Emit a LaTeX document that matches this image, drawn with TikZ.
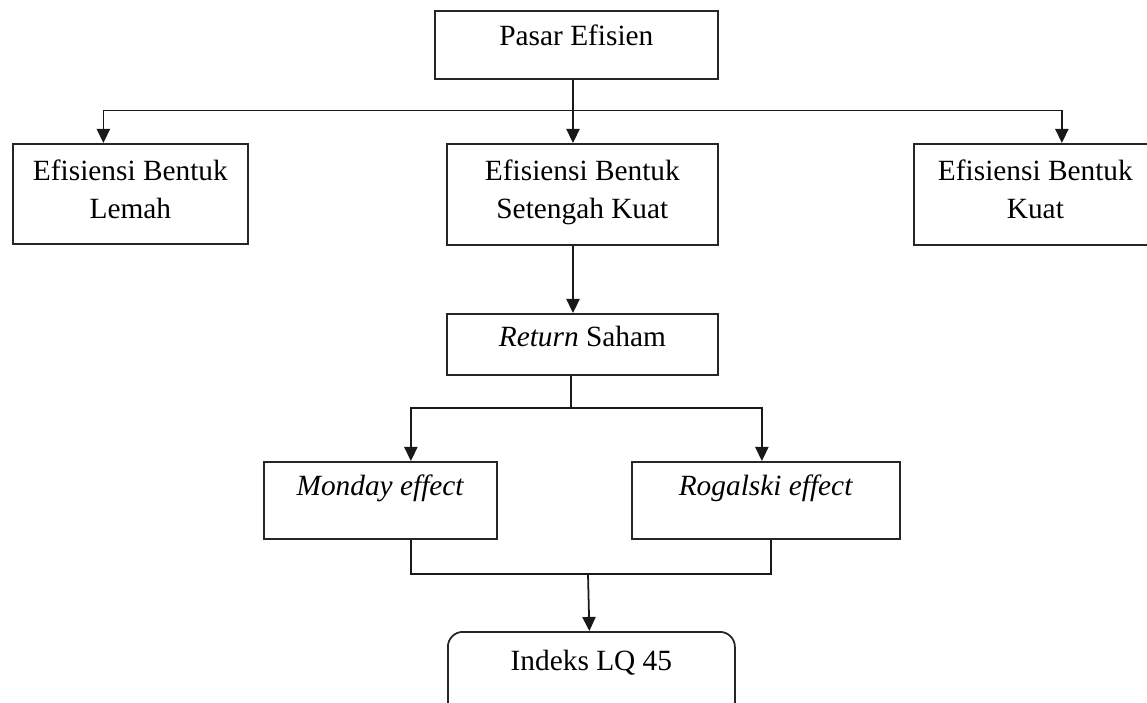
\documentclass[tikz,border=0pt]{standalone}
\usepackage{fontspec}
\setmainfont{Liberation Serif}
\usetikzlibrary{arrows.meta}
\usetikzlibrary{positioning}
\usetikzlibrary{calc}

\begin{document}
\begin{tikzpicture}
  \tikzset{
    box/.style 2 args={draw=black!85,line width=1pt,anchor=north west,inner sep=0pt,
      minimum width=#1,minimum height=#2},
    txt/.style={font=\fontsize{16.7}{21.4}\selectfont,align=center,anchor=base,inner sep=0pt},
    ln/.style={draw=black!90,line width=1pt},
    arr/.style={ln,-{Triangle[width=7.5pt,length=8pt]}},
  }
  \useasboundingbox (0,0) rectangle (22.94,-14.06);
  \clip (0,0) rectangle (22.94,-14.06);
  % boxes
  \node[box={5.66cm}{1.36cm}] (pasar) at (8.68,-0.2) {};
  \node[box={4.7cm}{2.0cm}] (lemah) at (0.24,-2.86) {};
  \node[box={5.42cm}{2.02cm}] (setengah) at (8.92,-2.86) {};
  \node[box={4.86cm}{2.02cm}] (kuat) at (18.26,-2.86) {};
  \node[box={5.42cm}{1.22cm}] (return) at (8.92,-6.26) {};
  \node[box={4.66cm}{1.54cm}] (monday) at (5.26,-9.22) {};
  \node[box={5.36cm}{1.54cm}] (rogalski) at (12.62,-9.22) {};
  \node[box={5.74cm}{2.2cm},rounded corners=0.3cm] (indeks) at (8.94,-12.62) {};
  % texts (two lines: base is the last line)
  \node[txt] (pasar-t) at ([yshift=-0.72cm]pasar.north) {Pasar Efisien};
  \node[txt] (lemah-t) at ([yshift=-1.5cm]lemah.north) {Efisiensi Bentuk\\Lemah};
  \node[txt] (setengah-t) at ([yshift=-1.5cm]setengah.north) {Efisiensi Bentuk\\Setengah Kuat};
  \node[txt] (kuat-t) at ([yshift=-1.5cm]kuat.north) {Efisiensi Bentuk\\Kuat};
  \node[txt] (return-t) at ([yshift=-0.66cm]return.north) {\textit{Return} Saham};
  \node[txt] (monday-t) at ([yshift=-0.68cm]monday.north) {\textit{Monday effect}};
  \node[txt] (rogalski-t) at ([yshift=-0.68cm]rogalski.north) {\textit{Rogalski effect}};
  \node[txt] (indeks-t) at ([yshift=-0.78cm]indeks.north) {Indeks LQ 45};
  % connectors
  \coordinate (jtop) at (11.46,-2.21);
  \coordinate (jmid) at (11.42,-8.16);
  \coordinate (jbot) at (11.76,-11.48);
  \draw[ln] (jtop |- pasar.south) -- (jtop);
  \draw[arr] (jtop) -- (jtop |- setengah.north);
  \draw[arr] (jtop) -| ([xshift=-0.54cm]lemah.north);
  \draw[arr] (jtop) -| ([xshift=0.53cm]kuat.north);
  \draw[arr] (jtop |- setengah.south) -- (jtop |- return.north);
  \draw[ln] (jmid |- return.south) -- (jmid);
  \draw[arr] (jmid) -| ([xshift=0.61cm]monday.north);
  \draw[arr] (jmid) -| ([xshift=-0.08cm]rogalski.north);
  \draw[ln] ([xshift=0.61cm]monday.south) |- (jbot) -| ([xshift=0.1cm]rogalski.south);
  \draw[arr] (jbot) -- ([xshift=-0.04cm]indeks.north);
\end{tikzpicture}
\end{document}
